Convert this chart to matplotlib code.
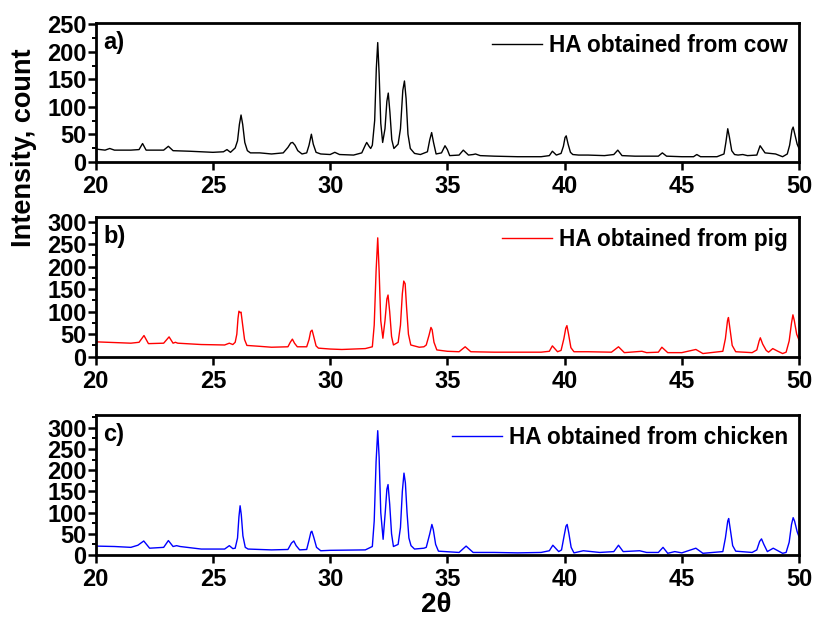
import matplotlib
matplotlib.use("Agg")
import matplotlib.pyplot as plt
from matplotlib.ticker import MultipleLocator

plt.rcParams['font.family'] = ['Liberation Sans', 'DejaVu Sans']
plt.rcParams['font.weight'] = 'bold'

# points: (2theta, intensity)
cow_points = [(20.0, 23), (20.4, 21), (20.6, 24), (20.8, 21), (21.5, 21), (21.85, 22), (22.0, 33), (22.15, 21),
              (22.9, 21), (23.1, 28), (23.3, 20), (24.0, 19), (25.0, 17), (25.45, 18), (25.6, 22), (25.75, 17),
              (25.95, 25), (26.05, 38), (26.13, 68), (26.2, 85), (26.27, 68), (26.36, 35), (26.47, 20), (26.6, 16),
              (27.0, 16), (27.5, 14), (28.0, 16), (28.2, 26), (28.32, 34), (28.4, 35), (28.5, 30), (28.62, 20),
              (28.8, 14), (29.0, 16), (29.1, 30), (29.2, 50), (29.28, 32), (29.4, 17), (29.6, 14), (30.0, 13),
              (30.2, 17), (30.4, 13), (31.0, 12), (31.35, 16), (31.5, 30), (31.56, 35), (31.66, 28), (31.73, 24),
              (31.8, 30), (31.9, 75), (31.97, 170), (32.03, 217), (32.09, 160), (32.16, 70), (32.24, 35),
              (32.34, 60), (32.42, 110), (32.48, 125), (32.55, 90), (32.63, 40), (32.72, 24), (32.9, 32),
              (33.0, 60), (33.1, 130), (33.17, 147), (33.24, 115), (33.32, 50), (33.42, 24), (33.6, 15),
              (33.85, 13), (34.15, 18), (34.25, 40), (34.33, 53), (34.41, 35), (34.52, 14), (34.75, 16),
              (34.9, 29), (35.0, 22), (35.1, 11), (35.5, 12), (35.68, 21), (35.9, 12), (36.1, 13), (36.2, 14),
              (36.4, 11), (37.0, 10), (38.0, 9), (39.0, 9), (39.35, 11), (39.48, 19), (39.65, 12), (39.85, 15),
              (39.95, 28), (40.02, 44), (40.07, 47), (40.15, 32), (40.25, 17), (40.35, 13), (40.6, 12), (41.0, 12),
              (41.7, 11), (42.1, 13), (42.27, 21), (42.45, 11), (43.0, 10), (44.0, 10), (44.17, 16), (44.35, 10),
              (45.0, 9), (45.5, 9), (45.64, 13), (45.8, 9), (46.5, 9), (46.8, 14), (46.88, 35), (46.96, 60),
              (47.03, 45), (47.13, 20), (47.25, 13), (47.4, 12), (47.6, 13), (47.8, 11), (48.2, 12),
              (48.34, 29), (48.55, 16), (48.8, 15), (49.0, 14), (49.3, 9), (49.5, 14), (49.6, 30), (49.7, 58),
              (49.75, 63), (49.82, 50), (49.92, 32), (50.0, 24)]

pig_points = [(20.0, 33), (21.0, 31), (21.5, 30), (21.85, 32), (22.06, 47), (22.25, 29), (22.9, 30), (23.13, 44),
              (23.3, 30), (23.4, 32), (23.5, 30), (24.5, 27), (25.5, 26), (25.7, 30), (25.85, 27), (25.95, 32),
              (26.02, 50), (26.07, 85), (26.11, 101), (26.16, 98), (26.2, 99), (26.27, 70), (26.35, 38),
              (26.45, 25), (27.0, 23), (27.5, 21), (28.2, 22), (28.3, 32), (28.39, 39), (28.48, 30), (28.6, 22),
              (29.0, 22), (29.1, 38), (29.17, 56), (29.23, 59), (29.3, 45), (29.4, 24), (29.5, 19), (30.0, 17),
              (30.5, 16), (31.5, 18), (31.8, 22), (31.88, 70), (31.96, 190), (32.03, 264), (32.09, 190),
              (32.16, 80), (32.25, 41), (32.34, 80), (32.42, 128), (32.47, 137), (32.54, 100), (32.62, 45),
              (32.7, 26), (32.9, 32), (33.0, 70), (33.08, 140), (33.14, 168), (33.2, 162), (33.26, 110),
              (33.34, 50), (33.44, 26), (33.8, 21), (34.0, 22), (34.1, 26), (34.22, 48), (34.3, 65), (34.35, 60),
              (34.43, 32), (34.55, 15), (35.0, 12), (35.5, 11), (35.76, 22), (36.0, 11), (37.0, 10), (38.0, 10),
              (39.0, 10), (39.35, 12), (39.48, 24), (39.7, 11), (39.85, 14), (39.97, 40), (40.05, 63),
              (40.1, 69), (40.17, 50), (40.27, 20), (40.4, 11), (41.0, 11), (42.0, 10), (42.3, 22), (42.55, 9),
              (43.3, 12), (43.5, 9), (44.0, 10), (44.15, 21), (44.4, 9), (45.0, 9), (45.6, 16), (45.9, 7),
              (46.75, 12), (46.86, 40), (46.95, 80), (46.99, 87), (47.06, 60), (47.15, 25), (47.3, 11),
              (48.0, 9), (48.2, 15), (48.3, 35), (48.35, 42), (48.45, 28), (48.6, 14), (48.7, 10), (48.88, 18),
              (49.1, 12), (49.3, 7), (49.45, 10), (49.58, 35), (49.68, 75), (49.74, 93), (49.8, 80), (49.9, 50),
              (50.0, 37)]

chicken_points = [(20.0, 21), (20.8, 20), (21.5, 18), (21.8, 23), (22.05, 33), (22.3, 16), (22.9, 18), (23.1, 34),
                  (23.3, 20), (23.45, 22), (23.6, 20), (24.5, 14), (25.5, 14), (25.7, 22), (25.85, 15),
                  (25.95, 16), (26.05, 40), (26.11, 90), (26.16, 116), (26.21, 95), (26.28, 45), (26.38, 18),
                  (26.5, 14), (27.5, 12), (28.2, 13), (28.35, 28), (28.45, 33), (28.55, 22), (28.7, 12),
                  (29.0, 13), (29.1, 35), (29.18, 54), (29.22, 56), (29.3, 42), (29.42, 18), (29.6, 10),
                  (30.0, 11), (31.5, 12), (31.8, 20), (31.88, 80), (31.96, 220), (32.03, 293), (32.09, 230),
                  (32.16, 100), (32.26, 37), (32.35, 100), (32.42, 155), (32.47, 166), (32.54, 120), (32.62, 50),
                  (32.7, 20), (32.9, 25), (33.0, 65), (33.08, 150), (33.15, 193), (33.21, 170), (33.28, 100),
                  (33.36, 40), (33.45, 22), (33.6, 14), (34.0, 16), (34.1, 18), (34.25, 50), (34.34, 72),
                  (34.4, 60), (34.5, 25), (34.62, 9), (35.5, 6), (35.8, 21), (36.1, 6), (37.0, 6), (38.0, 5),
                  (39.0, 6), (39.35, 10), (39.5, 23), (39.75, 8), (39.87, 12), (39.98, 45), (40.06, 68),
                  (40.11, 72), (40.18, 52), (40.28, 18), (40.4, 5), (40.8, 10), (41.5, 6), (42.1, 8), (42.3, 23),
                  (42.5, 8), (43.2, 10), (43.5, 6), (44.0, 6), (44.2, 18), (44.4, 4), (44.7, 8), (45.0, 5),
                  (45.6, 16), (45.9, 4), (46.75, 8), (46.86, 40), (46.96, 80), (47.0, 86), (47.07, 60),
                  (47.17, 22), (47.3, 9), (48.0, 6), (48.2, 12), (48.32, 32), (48.4, 38), (48.5, 25), (48.65, 8),
                  (48.9, 16), (49.1, 10), (49.3, 4), (49.45, 6), (49.58, 30), (49.68, 72), (49.75, 88),
                  (49.81, 80), (49.92, 55), (50.0, 43)]

series = [cow_points, pig_points, chicken_points]
labels = ["HA obtained from cow", "HA obtained from pig", "HA obtained from chicken"]
colors = ["black", "red", "blue"]
panel_tags = ["a)", "b)", "c)"]
y_tops = [253, 311, 330]
y_maxtick = [250, 300, 300]

fig = plt.figure(figsize=(8.13, 6.17), dpi=100)
boxes = [[0.1177, 0.738, 0.8651, 0.225],
         [0.1177, 0.4219, 0.8651, 0.2269],
         [0.1177, 0.1005, 0.8651, 0.2269]]

for i in range(3):
    ax = fig.add_axes(boxes[i])
    xs = [p[0] for p in series[i]]
    ys = [p[1] for p in series[i]]
    ax.plot(xs, ys, color=colors[i], lw=1.0, label=labels[i])
    ax.set_xlim(20, 50)
    ax.set_ylim(0, y_tops[i])
    ax.set_xticks(range(20, 51, 5))
    ax.set_yticks(range(0, y_maxtick[i] + 1, 50))
    ax.yaxis.set_minor_locator(MultipleLocator(25))
    for s in ax.spines.values():
        s.set_linewidth(2.0)
    ax.tick_params(which='major', direction='out', length=5.5, width=1.8, labelsize=17)
    ax.tick_params(which='minor', direction='out', length=3, width=1.4)
    ax.tick_params(axis='x', which='major', pad=4)
    ax.tick_params(axis='y', which='major', pad=1)
    for t in ax.get_xticklabels() + ax.get_yticklabels():
        t.set_fontweight('bold')
    ax.text(0.011, 0.86, panel_tags[i], transform=ax.transAxes, fontsize=17,
            fontweight='bold', va='center', ha='left')
    ax.legend(loc='upper right', frameon=False, handlelength=2.2,
              handletextpad=0.3, borderaxespad=0.15, borderpad=0.35,
              prop={'weight': 'bold', 'size': 16.3})

fig.text(0.029, 0.76, "Intensity, count", rotation=90, fontsize=19.5, fontweight='bold',
         ha='center', va='center')
fig.text(0.536, 0.02, "2θ", fontsize=20, fontweight='bold', ha='center', va='center')

fig.savefig("out.png", dpi=100)
